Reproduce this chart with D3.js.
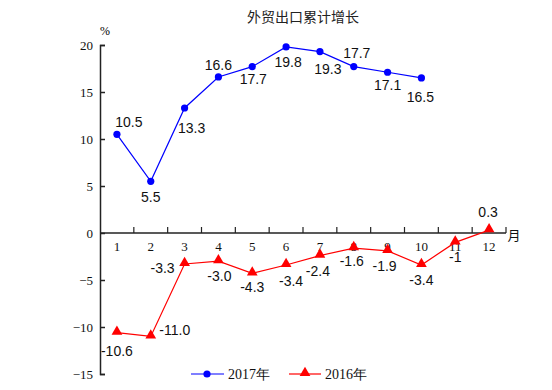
<!DOCTYPE html>
<html>
<head>
<meta charset="utf-8">
<script src="https://cdn.jsdelivr.net/npm/d3@7"></script>
<style>
  body { margin: 0; background: #fff; }
  text { font-family: "Liberation Serif", serif; }
  .lbl { font-family: "Liberation Sans", Arial, sans-serif; font-size: 14px; fill: #111; }
</style>
</head>
<body>
<div id="chart"></div>
<script>
const months = ['1','2','3','4','5','6','7','8','9','10','11','12'];
const yTicks = [20, 15, 10, 5, 0, -5, -10, -15];
const values2017 = [10.5, 5.5, 13.3, 16.6, 17.7, 19.8, 19.3, 17.7, 17.1, 16.5];
const labels2017 = ['10.5','5.5','13.3','16.6','17.7','19.8','19.3','17.7','17.1','16.5'];
const values2016 = [-10.6, -11.0, -3.3, -3.0, -4.3, -3.4, -2.4, -1.6, -1.9, -3.4, -1.0, 0.3];
const labels2016 = ['-10.6','-11.0','-3.3','-3.0','-4.3','-3.4','-2.4','-1.6','-1.9','-3.4','-1','0.3'];

// label offsets (dx, dy) relative to the point
const off2017 = [[12,-12],[0,16],[7,20],[0,-12],[1,12],[2,15],[8,17],[3,-14],[0,13],[-1,19]];
const off2016 = [[0,18],[24,-6],[-22,4],[1,15],[0,14],[5,16],[-2,15],[-2,13],[-3,15],[0,15],[0,15],[-1,-18]];

const W = 552, H = 390;
const svg = d3.select('#chart').append('svg').attr('width', W).attr('height', H);

const x = d3.scaleBand().domain(months).range([100, 506]);
const y = d3.scaleLinear().domain([-15, 20]).range([374, 45]);
const cx = m => x(m) + x.bandwidth() / 2;

// title
svg.append('text').attr('x', 303).attr('y', 22).attr('text-anchor', 'middle')
  .style('font-family', '"Noto Sans CJK SC", sans-serif').style('font-size', '14px').style('fill', '#222')
  .text('外贸出口累计增长');
svg.append('text').attr('x', 105).attr('y', 35).attr('text-anchor', 'middle')
  .style('font-size', '12px').text('%');

// y axis
const yAxis = svg.append('g').attr('transform', 'translate(100,0)')
  .call(d3.axisRight(y).tickValues(yTicks).tickSize(5).tickFormat(d3.format('d')));
yAxis.selectAll('text').attr('x', -7).attr('text-anchor', 'end')
  .style('font-family', '"Liberation Serif", serif').style('font-size', '13px').style('fill', '#111');
yAxis.selectAll('path,line').attr('stroke', '#222').attr('stroke-width', 1.5);

// x axis at zero with ticks on band edges pointing up
const xg = svg.append('g');
xg.append('line').attr('x1', 100).attr('x2', 506).attr('y1', y(0)).attr('y2', y(0))
  .attr('stroke', '#222').attr('stroke-width', 1.5);
const edges = months.map(m => x(m) + x.bandwidth());
xg.selectAll('line.tk').data(edges).enter().append('line').attr('class', 'tk')
  .attr('x1', d => d).attr('x2', d => d).attr('y1', y(0)).attr('y2', y(0) - 6)
  .attr('stroke', '#222').attr('stroke-width', 1.2);
xg.selectAll('text').data(months).enter().append('text')
  .attr('x', d => cx(d)).attr('y', y(0) + 18).attr('text-anchor', 'middle')
  .style('font-size', '13px').style('fill', '#111').text(d => d);
svg.append('text').attr('x', 514).attr('y', 240).attr('text-anchor', 'middle')
  .style('font-family', '"Noto Sans CJK SC", sans-serif').style('font-size', '13px').style('fill', '#111')
  .text('月');

// 2017 series
const line = d3.line().x((d, i) => cx(months[i])).y(d => y(d));
svg.append('path').datum(values2017).attr('d', line).attr('fill', 'none').attr('stroke', '#0000ff').attr('stroke-width', 1.2);
svg.selectAll('circle.s17').data(values2017).enter().append('circle').attr('class', 's17')
  .attr('cx', (d, i) => cx(months[i])).attr('cy', d => y(d)).attr('r', 3.6).attr('fill', '#0000ff');
svg.selectAll('text.l17').data(values2017).enter().append('text').attr('class', 'lbl l17')
  .attr('x', (d, i) => cx(months[i]) + off2017[i][0]).attr('y', (d, i) => y(d) + off2017[i][1])
  .attr('text-anchor', 'middle').attr('dominant-baseline', 'central').text((d, i) => labels2017[i]);

// 2016 series
const tri = d3.symbol().type(d3.symbolTriangle).size(50);
svg.append('path').datum(values2016).attr('d', line).attr('fill', 'none').attr('stroke', '#ff0000').attr('stroke-width', 1.2);
svg.selectAll('path.s16').data(values2016).enter().append('path').attr('class', 's16')
  .attr('transform', (d, i) => `translate(${cx(months[i])},${y(d) - 1})`).attr('d', tri).attr('fill', '#ff0000');
svg.selectAll('text.l16').data(values2016).enter().append('text').attr('class', 'lbl l16')
  .attr('x', (d, i) => cx(months[i]) + off2016[i][0]).attr('y', (d, i) => y(d) + off2016[i][1])
  .attr('text-anchor', 'middle').attr('dominant-baseline', 'central').text((d, i) => labels2016[i]);

// legend
const lg = svg.append('g');
lg.append('line').attr('x1', 191).attr('x2', 224).attr('y1', 374).attr('y2', 374).attr('stroke', '#0000ff').attr('stroke-width', 1.2);
lg.append('circle').attr('cx', 207).attr('cy', 374).attr('r', 3.6).attr('fill', '#0000ff');
lg.append('text').attr('x', 228).attr('y', 379).style('font-size', '14px').style('fill', '#111').text('2017年');
lg.append('line').attr('x1', 289).attr('x2', 321).attr('y1', 374).attr('y2', 374).attr('stroke', '#ff0000').attr('stroke-width', 1.2);
lg.append('path').attr('transform', 'translate(305,373)').attr('d', tri).attr('fill', '#ff0000');
lg.append('text').attr('x', 325).attr('y', 379).style('font-size', '14px').style('fill', '#111').text('2016年');
</script>
</body>
</html>
